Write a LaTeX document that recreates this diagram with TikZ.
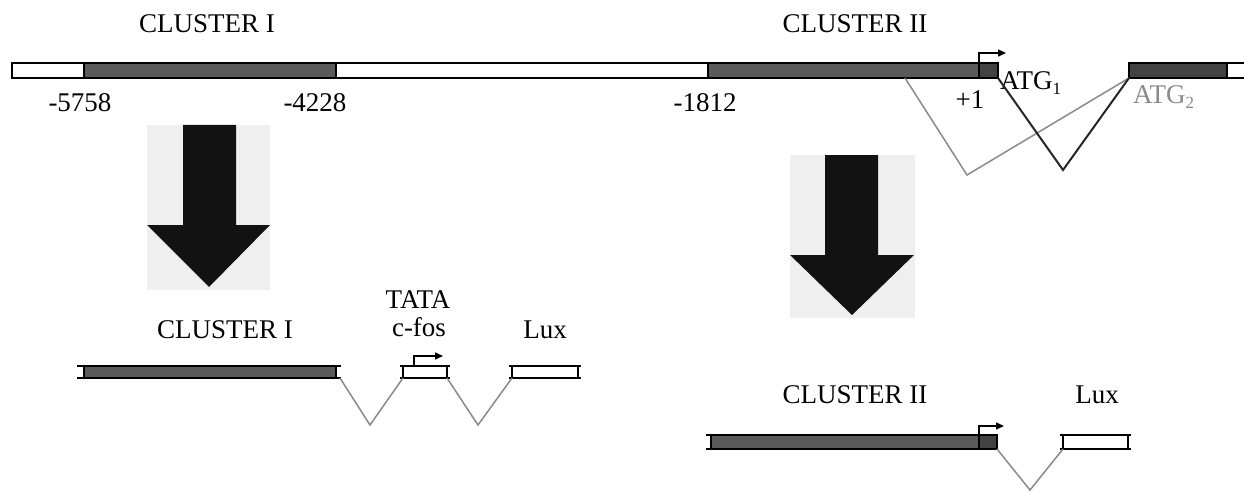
\documentclass[tikz,border=0pt]{standalone}
\usepackage{fontspec}
\setmainfont{Liberation Serif}
\usetikzlibrary{arrows.meta}
\definecolor{exdark}{HTML}{5A5A5A}
\definecolor{exdarker}{HTML}{424242}
\definecolor{bgbox}{HTML}{EFEFEF}
\definecolor{splgray}{HTML}{8A8A8A}
\newcommand{\lowsub}[1]{\raisebox{-0.4ex}{\fontsize{17}{17}\selectfont #1}}
\begin{document}
\begin{tikzpicture}[x=1pt,y=-1pt,
  lbl/.style={font=\fontsize{27}{29}\selectfont, inner sep=0pt},
  seg/.style={draw=black, line width=1.6pt},
  splice/.style={draw=splgray, line width=1.5pt},
  splicek/.style={draw=black!85, line width=2pt},
  tss/.style={draw=black, line width=1.5pt, -{Triangle[length=8pt,width=7pt]}},
  bigarrow/.style={fill=black!93, draw=none},
  bgpanel/.style={fill=bgbox, draw=none}]
\useasboundingbox (0,0) rectangle (1244,492);
\fill[white] (0,0) rectangle (1244,492);

% ---------- titles ----------
\node[lbl] (t1) at (207,24) {CLUSTER I};
\node[lbl] (t2) at (855,24) {CLUSTER II};

% ---------- top bar ----------
\path[seg, fill=white] (12,63) rectangle (84,78);
\path[seg, fill=exdark] (84,63) rectangle (336,78);
\path[seg, fill=white] (336,63) rectangle (708,78);
\path[seg, fill=exdark] (708,63) rectangle (979,78);
\path[seg, fill=exdarker] (979,63) rectangle (998,78);
\path[seg, fill=exdarker] (1129,63) rectangle (1227,78);
\path[seg, fill=white] (1227,63) rectangle (1250,78);

\coordinate (tssA) at (979,63);
\coordinate (tssAt) at (979,53);
\coordinate (tssAe) at (1006,53);
\draw[tss] (tssA) -- (tssAt) -- (tssAe);

\node[lbl] (n5758) at (80,103) {-5758};
\node[lbl] (n4228) at (315,103) {-4228};
\node[lbl] (n1812) at (705,103) {-1812};
\node[lbl] (p1) at (970,100) {+1};
\node[lbl, anchor=base west] (atg1) at (1000,90) {ATG\lowsub{1}};
\node[lbl, anchor=base west, text=splgray] (atg2) at (1133,104) {ATG\lowsub{2}};

% splicing lines
\coordinate (gS) at (905,78);
\coordinate (gV) at (967,175);
\coordinate (gE) at (1129,78);
\coordinate (kS) at (998,78);
\coordinate (kV) at (1063,170);
\draw[splice] (gS) -- (gV) -- (gE);
\draw[splicek] (kS) -- (kV) -- (gE);

% ---------- big arrows ----------
\path[bgpanel] (147,125) rectangle (270,290);
\path[bigarrow] (183,125) -- (236,125) -- (236,225) -- (270,225) -- (209,287) -- (147,225) -- (183,225) -- cycle;
\path[bgpanel] (790,155) rectangle (915,318);
\path[bigarrow] (825,155) -- (878,155) -- (878,255) -- (914,255) -- (852,315) -- (790,255) -- (825,255) -- cycle;

% ---------- bottom left construct ----------
\node[lbl] (b1) at (225,330) {CLUSTER I};
\node[lbl] (tata) at (418,300) {TATA};
\node[lbl] (cfos) at (419,327) {c-fos};
\node[lbl] (lux1) at (545,330) {Lux};

\path[seg, fill=exdark] (84,366) rectangle (336,378);
\draw[seg] (77,366) -- (341,366) (77,378) -- (341,378);
\path[seg, fill=white] (403,366) rectangle (447,378);
\draw[seg] (400,366) -- (450,366) (400,378) -- (450,378);
\path[seg, fill=white] (512,366) rectangle (578,378);
\draw[seg] (509,366) -- (581,366) (509,378) -- (581,378);

\coordinate (s1a) at (340,378);
\coordinate (s1v) at (370,425);
\coordinate (s1b) at (403,378);
\coordinate (s2a) at (447,378);
\coordinate (s2v) at (478,425);
\coordinate (s2b) at (512,378);
\draw[splice] (s1a) -- (s1v) -- (s1b);
\draw[splice] (s2a) -- (s2v) -- (s2b);

\coordinate (tssB) at (414,366);
\coordinate (tssBt) at (414,356);
\coordinate (tssBe) at (443,356);
\draw[tss] (tssB) -- (tssBt) -- (tssBe);

% ---------- bottom right construct ----------
\node[lbl] (b2) at (855,395) {CLUSTER II};
\node[lbl] (lux2) at (1097,395) {Lux};

\path[seg, fill=exdark] (711,435) rectangle (979,449);
\path[seg, fill=exdarker] (979,435) rectangle (997,449);
\draw[seg] (706,435) -- (997,435) (706,449) -- (997,449);
\path[seg, fill=white] (1063,435) rectangle (1128,449);
\draw[seg] (1060,435) -- (1131,435) (1060,449) -- (1131,449);

\coordinate (s3a) at (997,449);
\coordinate (s3v) at (1030,490);
\coordinate (s3b) at (1063,449);
\draw[splice] (s3a) -- (s3v) -- (s3b);

\coordinate (tssC) at (979,435);
\coordinate (tssCt) at (979,426);
\coordinate (tssCe) at (1004,426);
\draw[tss] (tssC) -- (tssCt) -- (tssCe);
\end{tikzpicture}
\end{document}
